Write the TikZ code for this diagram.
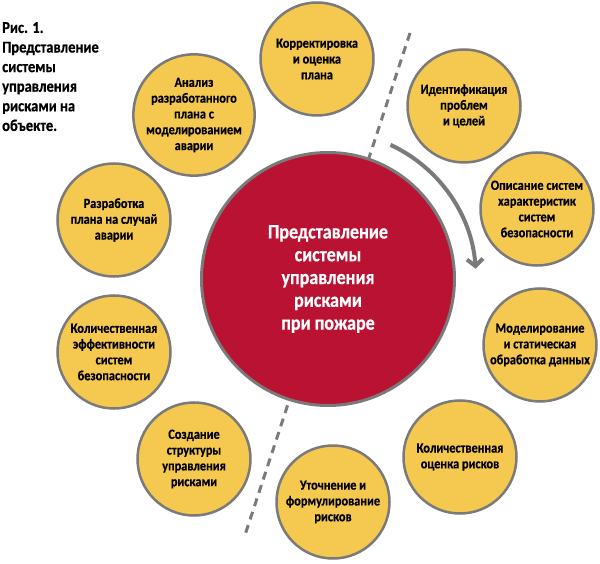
\documentclass[tikz,border=0pt]{standalone}
\usepackage{fontspec}
\setmainfont{Carlito}
\newfontfamily\narrowfont[FakeStretch=0.88,FakeBold=0.6]{Carlito Bold}
\usetikzlibrary{arrows.meta}
\definecolor{riskred}{RGB}{186,18,50}
\definecolor{stepyellow}{RGB}{245,201,80}
\definecolor{rimgray}{RGB}{122,122,122}

\begin{document}
\begin{tikzpicture}[x=1pt,y=1pt,
  phase/.style={circle,draw=rimgray,line width=2.5pt,fill=stepyellow,minimum size=113pt,inner sep=0pt,align=center,font=\narrowfont\fontsize{14}{15.8}\selectfont},
  hub/.style={circle,draw=rimgray,line width=3pt,fill=riskred,minimum size=253pt,align=center,text=white,font=\narrowfont\fontsize{20.5}{22.8}\selectfont},
  divider/.style={rimgray,line width=3pt,dash pattern=on 8pt off 6pt},
  roundarrow/.style={rimgray,line width=4pt,-{Straight Barb[length=7pt,width=16pt]}}]
  \useasboundingbox (0,0) rectangle (600,563);
  \coordinate (top) at (410,530);
  \coordinate (bottom) at (244,25);
  \draw [divider] (top) -- (bottom);
  \node [hub] (H) at (328,284) {Представление\\системы\\управления\\рисками\\при пожаре};
  \node [phase] (K) at (317,504) {Корректировка\\и оценка\\плана};
  \node [phase] (I) at (464,457) {Идентификация\\проблем\\и целей};
  \node [phase] (O) at (537,354) {Описание систем\\характеристик\\систем\\безопасности};
  \node [phase] (M) at (540,218) {Моделирование\\и статическая\\обработка данных};
  \node [phase] (Q) at (460,106) {Количественная\\оценка рисков};
  \node [phase] (U) at (333,61) {Уточнение и\\формулирование\\рисков};
  \node [phase] (S) at (194,104) {Создание\\структуры\\управления\\рисками};
  \node [phase] (E) at (114,211) {Количественная\\эффективности\\систем\\безопасности};
  \node [phase] (R) at (114,343) {Разработка\\плана на случай\\аварии};
  \node [phase] (A) at (194,448) {Анализ\\разработанного\\плана с\\моделированием\\аварии};
  \draw [roundarrow] (H.center) ++(65:148) arc [start angle=65,end angle=4,radius=148];
  \node [anchor=north west,align=left,inner sep=0pt,font=\narrowfont\fontsize{16.5}{19.6}\selectfont] (fig) at (2,541) {Рис. 1.\\Представление\\системы\\управления\\рисками на\\объекте.};
\end{tikzpicture}
\end{document}
